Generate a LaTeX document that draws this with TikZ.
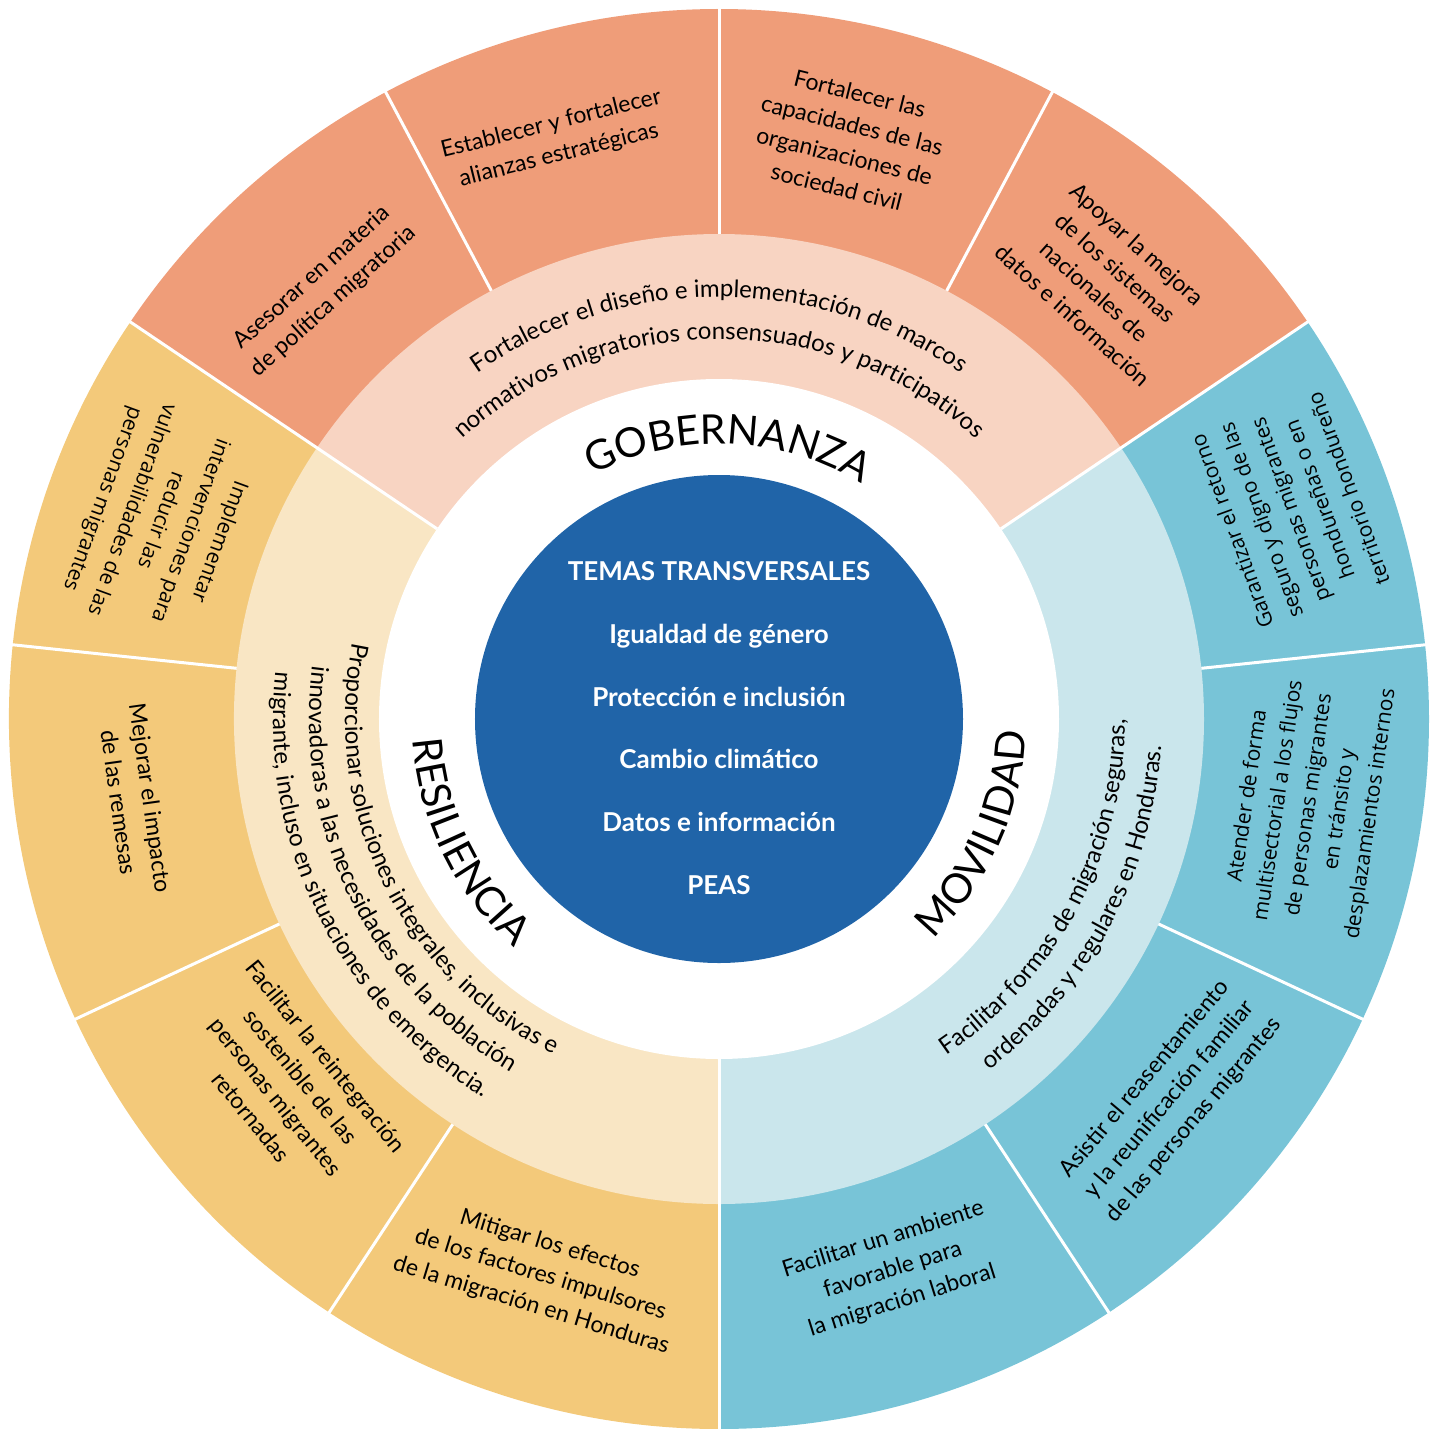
\documentclass[tikz,border=0pt]{standalone}
\usepackage{fontspec}
\setmainfont{Lato}
\newfontfamily\segoefont{Open Sans}
\usetikzlibrary{decorations.text}

\definecolor{gobfuerte}{HTML}{EF9D79}
\definecolor{gobsuave}{HTML}{F8D4C2}
\definecolor{resfuerte}{HTML}{F3C97A}
\definecolor{ressuave}{HTML}{F9E6C4}
\definecolor{movfuerte}{HTML}{78C4D7}
\definecolor{movsuave}{HTML}{CAE6EC}
\definecolor{azultemas}{HTML}{2064A8}

\newcommand{\textoexterior}{\fontsize{23}{32}\selectfont}
\newcommand{\textosegoe}{\segoefont\fontsize{21}{31}\selectfont}
\newcommand{\textomedio}{\fontsize{24}{28}\selectfont}
\newcommand{\textoeje}{\fontsize{41}{46}\selectfont}
\newcommand{\textocentro}{\fontsize{26}{30}\selectfont\bfseries}

\begin{document}
\begin{tikzpicture}[x=1pt, y=1pt,
    objetivo/.style={align=center, font=\textoexterior, inner sep=0pt},
    objetivob/.style={align=center, font=\textosegoe, inner sep=0pt},
    tema/.style={text=white, font=\textocentro, anchor=base, inner sep=0pt},
    separador/.style={white, line width=3pt}]
    \useasboundingbox (-719,-709) rectangle (715,719);
    % Sectores exteriores
    \fill[gobfuerte] (0,0) -- (34:710) arc[start angle=34, end angle=146, radius=710] -- cycle;
    \fill[resfuerte] (0,0) -- (146:710) arc[start angle=146, end angle=270, radius=710] -- cycle;
    \fill[movfuerte] (0,0) -- (-90:710) arc[start angle=-90, end angle=34, radius=710] -- cycle;
    % Anillo medio
    \fill[gobsuave] (0,0) -- (34:485) arc[start angle=34, end angle=146, radius=485] -- cycle;
    \fill[ressuave] (0,0) -- (146:485) arc[start angle=146, end angle=270, radius=485] -- cycle;
    \fill[movsuave] (0,0) -- (-90:485) arc[start angle=-90, end angle=34, radius=485] -- cycle;
    \fill[white] (0,0) circle[radius=340];
    \fill[azultemas] (0,0) circle[radius=244];
    % Separadores
    \draw[separador] (34:340) -- (34:712);
    \draw[separador] (146:340) -- (146:712);
    \draw[separador] (270:340) -- (270:712);
    \draw[separador] (62:485) -- (62:712);
    \draw[separador] (90:485) -- (90:712);
    \draw[separador] (118:485) -- (118:712);
    \draw[separador] (174:485) -- (174:712);
    \draw[separador] (205:485) -- (205:712);
    \draw[separador] (236.7:485) -- (236.7:712);
    \draw[separador] (303.3:485) -- (303.3:712);
    \draw[separador] (335:485) -- (335:712);
    \draw[separador] (6:485) -- (6:712);
    % Ejes
    \path[decorate, decoration={text along path, text align=center,
        text={|\textoeje|GOBERNANZA}}] (148:275) arc[start angle=148, end angle=28, radius=275];
    \path[decorate, decoration={text along path, text align=center,
        text={|\textoeje|RESILIENCIA}}] (150:307) arc[start angle=150, end angle=262, radius=307];
    \path[decorate, decoration={text along path, text align=center,
        text={|\textoeje|MOVILIDAD}}] (-80:307) arc[start angle=-80, end angle=32, radius=307];
    % Objetivos del anillo medio
    \path[decorate, decoration={text along path, text align=center,
        text={|\textomedio|Fortalecer el diseño e implementación de marcos}}] (146:422) arc[start angle=146, end angle=34, radius=422];
    \path[decorate, decoration={text along path, text align=center,
        text={|\textomedio|normativos migratorios consensuados y participativos}}] (146:380) arc[start angle=146, end angle=34, radius=380];
    \path[decorate, decoration={text along path, text align=center,
        text={|\textomedio|Proporcionar soluciones integrales, inclusivas e}}] (146:374) arc[start angle=146, end angle=266, radius=374];
    \path[decorate, decoration={text along path, text align=center,
        text={|\textomedio|innovadoras a las necesidades de la población}}] (146:410) arc[start angle=146, end angle=266, radius=410];
    \path[decorate, decoration={text along path, text align=center,
        text={|\textomedio|migrante, incluso en situaciones de emergencia.}}] (146:446) arc[start angle=146, end angle=266, radius=446];
    \path[decorate, decoration={text along path, text align=center,
        text={|\textomedio|Facilitar formas de migración seguras,}}] (-88:406) arc[start angle=-88, end angle=32, radius=406];
    \path[decorate, decoration={text along path, text align=center,
        text={|\textomedio|ordenadas y regulares en Honduras.}}] (-88:443) arc[start angle=-88, end angle=32, radius=443];
    % Gobernanza
    \node[objetivo, rotate=42] (asesorar) at (132.7:584) {Asesorar en materia\\de política migratoria};
    \node[objetivo, rotate=14] (alianzas) at (105.8:602) {Establecer y fortalecer\\alianzas estratégicas};
    \node[objetivo, rotate=-14] (sociedad) at (77.4:593) {Fortalecer las\\capacidades de las\\organizaciones de\\sociedad civil};
    \node[objetivo, rotate=-42] (sistemas) at (48.7:585) {Apoyar la mejora\\de los sistemas\\nacionales de\\datos e información};
    % Resiliencia
    \node[objetivob, rotate=-110] (vulnerab) at (160.4:593) {Implementar\\intervenciones para\\reducir las\\vulnerabilidades de las\\personas migrantes};
    \node[objetivo, rotate=-82] (remesas) at (187.9:590) {Mejorar el impacto\\de las remesas};
    \node[objetivo, rotate=-51] (reinteg) at (220.5:566) {Facilitar la reintegración\\sostenible de las\\personas migrantes\\retornadas};
    \node[objetivo, rotate=-17] (mitigar) at (252.2:584) {Mitigar los efectos\\de los factores impulsores\\de la migración en Honduras};
    % Movilidad
    \node[objetivo, rotate=17.5] (laboral) at (-72.5:578) {Facilitar un ambiente\\favorable para\\la migración laboral};
    \node[objetivo, rotate=50] (reasent) at (-40.2:590) {Asistir el reasentamiento\\y la reunificación familiar\\de las personas migrantes};
    \node[objetivob, rotate=81.7] (flujos) at (-8.3:597) {Atender de forma\\multisectorial a los flujos\\de personas migrantes\\en tránsito y\\desplazamientos internos};
    \node[objetivob, rotate=110] (retorno) at (20.1:608) {Garantizar el retorno\\seguro y digno de las\\personas migrantes\\hondureñas o en\\territorio hondureño};
    % Temas transversales
    \node[tema] (temas) at (0,139) {TEMAS TRANSVERSALES};
    \node[tema] (genero) at (0,76) {Igualdad de género};
    \node[tema] (proteccion) at (0,13) {Protección e inclusión};
    \node[tema] (clima) at (0,-49) {Cambio climático};
    \node[tema] (datos) at (0,-112) {Datos e información};
    \node[tema] (peas) at (0,-175) {PEAS};
\end{tikzpicture}
\end{document}
